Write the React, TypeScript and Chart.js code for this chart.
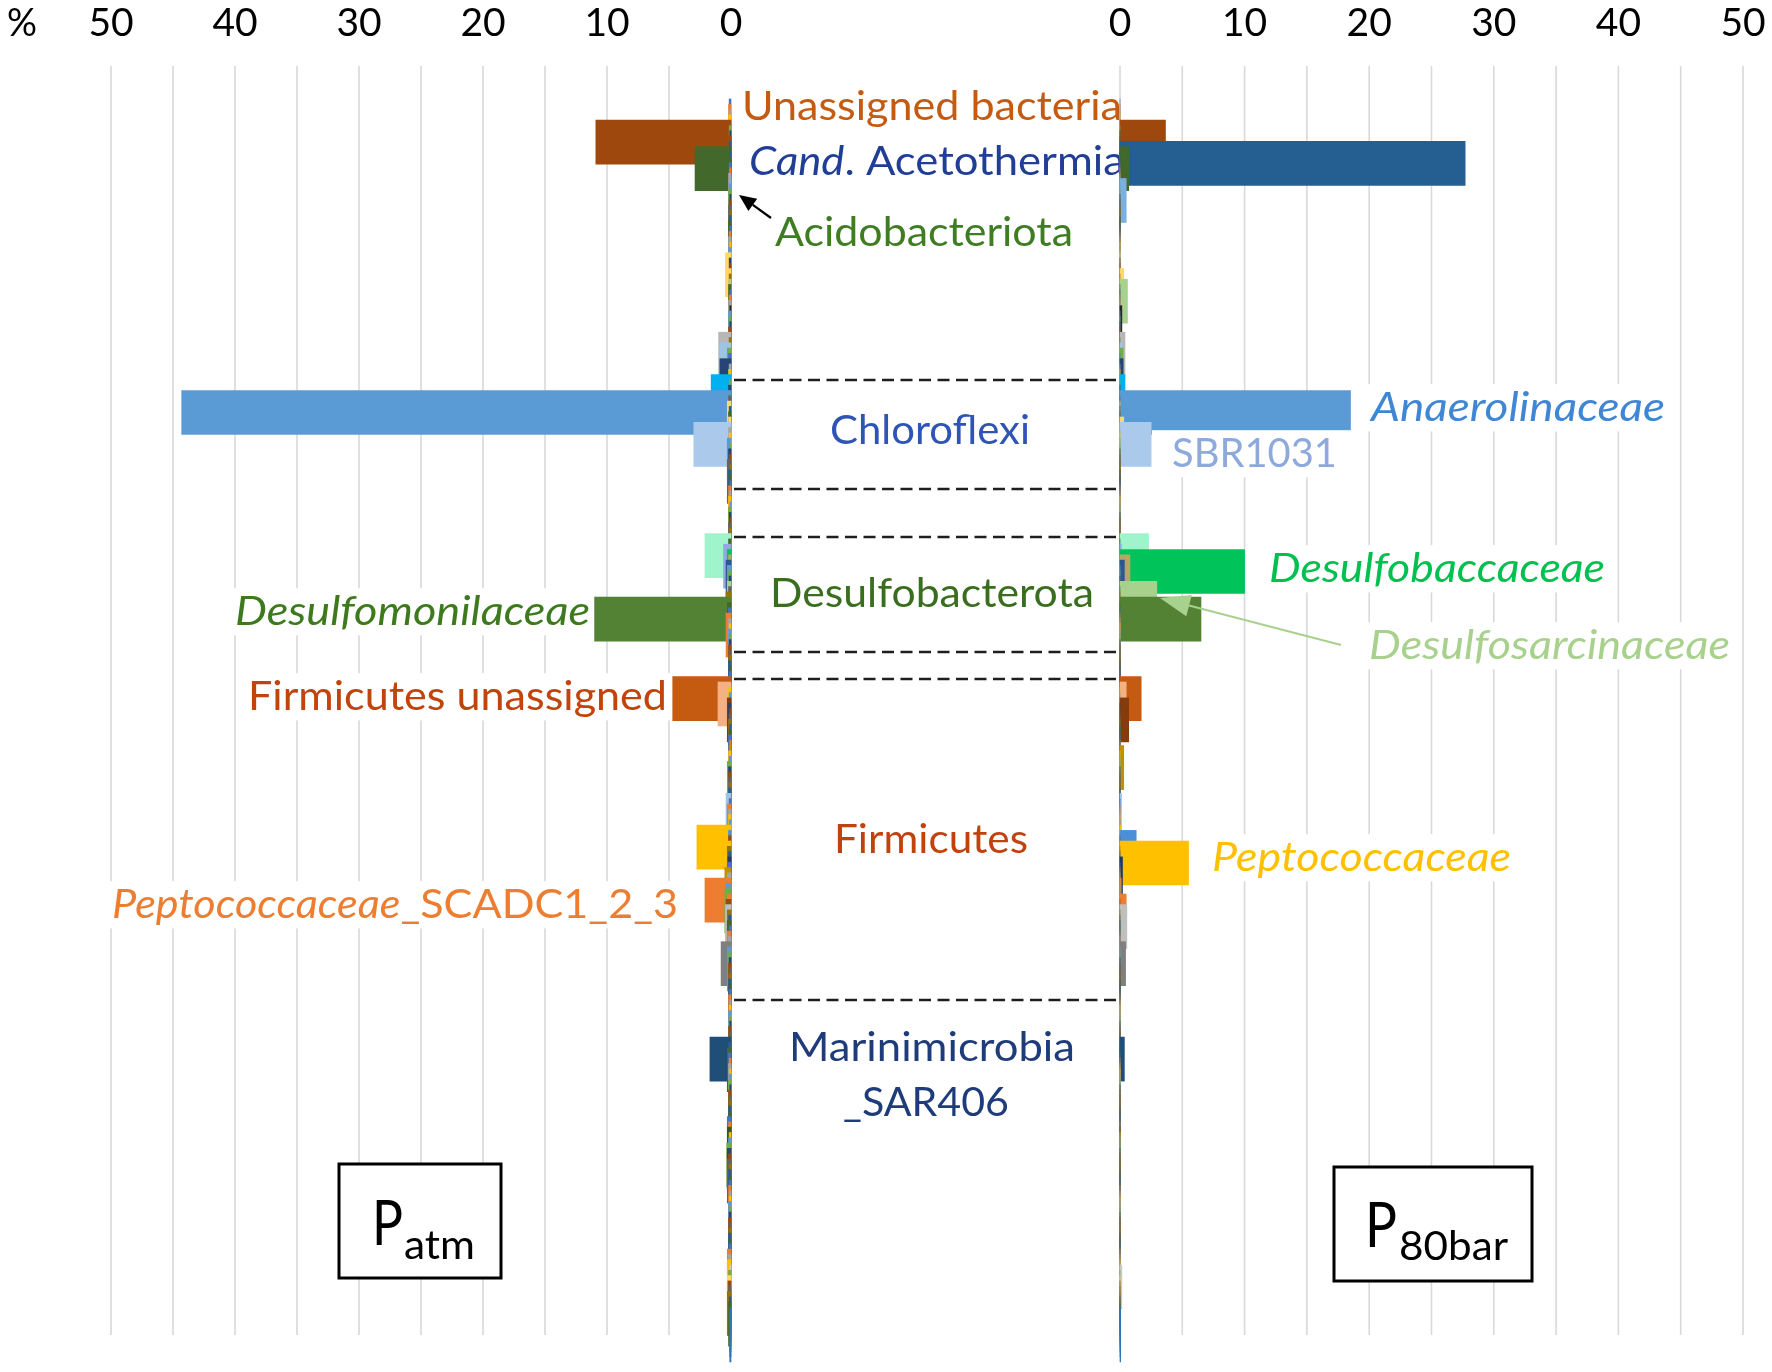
import { useEffect, useRef } from "react";
import { Chart, registerables } from "chart.js";

Chart.register(...registerables);

// ---------------- DATA ----------------
// Relative abundance (%) per taxon row, Patm (left) and P80bar (right)
const leftValues: number[] = [
  0.15, 0.2, 0.1, 0.2, 10.9, 0.15, 0.1, 0.2, 0.15, 2.9,
  0.1, 0.2, 0.15, 0.1, 0.2, 0.1, 0.15, 0.2, 0.1, 0.15,
  0.2, 0.1, 0.15, 0.2, 0.1, 0.15, 0.2, 0.1, 0.2, 0.45,
  0.15, 0.1, 0.2, 0.15, 0.15, 0.2, 0.1, 0.15, 0.2, 0.1,
  0.2, 0.15, 0.1, 0.2, 1.0, 0.15, 0.9, 0.3, 0.2, 0.9,
  0.15, 0.2, 1.6, 0.15, 0.2, 44.3, 0.2, 0.3, 0.15, 0.2,
  0.2, 3.0, 0.2, 0.15, 0.3, 0.1, 0.2, 0.15, 0.3, 0.1,
  0.2, 0.15, 0.1, 0.2, 0.15, 0.2, 0.1, 0.2, 0.15, 0.1,
  0.2, 0.15, 2.1, 0.2, 0.6, 0.3, 0.2, 0.4, 0.3, 0.2,
  0.15, 0.3, 0.2, 0.4, 11.0, 0.3, 0.2, 0.4, 0.2, 0.15,
  0.2, 0.1, 0.15, 0.2, 0.1, 0.15, 0.2, 0.1, 0.15, 4.7,
  1.05, 0.2, 0.15, 0.3, 0.2, 0.1, 0.15, 0.2, 0.1, 0.15,
  0.2, 0.1, 0.15, 0.2, 0.15, 0.3, 0.2, 0.2, 0.2, 0.15,
  0.2, 0.4, 0.15, 0.3, 0.2, 0.2, 0.15, 2.75, 0.2, 0.2,
  0.25, 0.3, 0.2, 0.25, 0.3, 0.5, 0.3, 2.1, 0.4, 0.5,
  0.3, 0.4, 0.45, 0.3, 0.2, 0.3, 0.15, 0.3, 0.2, 0.8,
  0.3, 0.2, 0.15, 0.2, 0.1, 0.15, 0.2, 0.1, 0.15, 0.2,
  0.1, 0.15, 0.2, 0.15, 0.1, 0.2, 0.15, 1.7, 0.2, 0.3,
  0.2, 0.15, 0.2, 0.1, 0.15, 0.2, 0.1, 0.2, 0.15, 0.1,
  0.2, 0.15, 0.3, 0.2, 0.3, 0.15, 0.2, 0.35, 0.3, 0.2,
  0.3, 0.15, 0.2, 0.1, 0.15, 0.2, 0.1, 0.15, 0.2, 0.1,
  0.15, 0.2, 0.1, 0.15, 0.2, 0.1, 0.15, 0.3, 0.2, 0.3,
  0.1, 0.2, 0.3, 0.25, 0.2, 0.3, 0.15, 0.2, 0.1, 0.1,
  0.1,
];

const rightValues: number[] = [
  0, 0, 0, 0, 3.65, 0, 0, 0, 27.7, 0.7,
  0, 0, 0, 0, 0, 0.5, 0, 0, 0, 0,
  0, 0, 0, 0, 0, 0, 0, 0, 0, 0,
  0, 0, 0.3, 0, 0.6, 0, 0, 0, 0, 0.15,
  0, 0, 0, 0, 0.4, 0, 0.2, 0.25, 0, 0.25,
  0, 0, 0.4, 0, 0, 18.5, 0, 0, 0, 0,
  0.3, 2.5, 0, 0, 0, 0, 0, 0, 0, 0,
  0, 0, 0, 0, 0, 0, 0, 0, 0, 0,
  0, 0, 2.3, 0, 0.1, 10.0, 0.8, 0.35, 0, 0,
  0, 2.95, 0, 0, 6.5, 0, 0, 0, 0, 0,
  0, 0, 0, 0, 0, 0, 0, 0, 0, 1.7,
  0.5, 0, 0, 0.7, 0, 0, 0, 0, 0, 0,
  0, 0, 0.3, 0, 0, 0, 0, 0, 0, 0,
  0, 0.12, 0, 0, 0, 0, 0, 0.1, 1.3, 0,
  5.5, 0, 0, 0.2, 0, 0, 0, 0.1, 0, 0,
  0.5, 0, 0.55, 0, 0, 0, 0, 0, 0, 0.45,
  0, 0, 0, 0, 0, 0, 0, 0, 0, 0,
  0, 0, 0, 0, 0, 0, 0, 0.35, 0, 0,
  0, 0, 0, 0, 0, 0, 0, 0, 0, 0,
  0, 0, 0, 0, 0, 0, 0, 0, 0, 0,
  0, 0, 0, 0, 0, 0, 0, 0, 0, 0,
  0, 0, 0, 0, 0, 0, 0, 0, 0, 0,
  0.15, 0, 0, 0, 0, 0, 0, 0, 0.05, 0.05,
  0.05,
];

const namedTaxa: [number, string][] = [
  [4, "Unassigned bacteria"],
  [8, "Cand. Acetothermia"],
  [9, "Acidobacteriota"],
  [52, "Chloroflexi other"],
  [55, "Anaerolinaceae"],
  [61, "SBR1031"],
  [85, "Desulfobaccaceae"],
  [91, "Desulfosarcinaceae"],
  [94, "Desulfomonilaceae"],
  [109, "Firmicutes unassigned"],
  [140, "Peptococcaceae"],
  [147, "Peptococcaceae_SCADC1_2_3"],
  [177, "Marinimicrobia_SAR406"],
];
const taxaMap = new Map(namedTaxa);
const taxa: string[] = leftValues.map((_, i) => taxaMap.get(i) ?? `taxon ${i + 1}`);

const gridValues: number[] = [0, 5, 10, 15, 20, 25, 30, 35, 40, 45, 50];
const tickValues: number[] = [0, 10, 20, 30, 40, 50];

// ---------------- STYLES ----------------
const W = 1772;
const H = 1372;
const FONT = "Lato, 'Open Sans', sans-serif";
const ROW_PITCH = 5.3;
const PLOT_TOP = 121 - ROW_PITCH / 2;
const PLOT_BOTTOM = PLOT_TOP + ROW_PITCH * leftValues.length;
const BAR_THICK = 44;

const officePalette = [
  "#4472c4", "#ed7d31", "#a5a5a5", "#ffc000", "#5b9bd5", "#70ad47",
  "#264478", "#9e480e", "#636363", "#997300", "#255e91", "#43682b",
];
const colorOverrides: Record<number, string> = {
  4: "#9e480e", 8: "#255e91", 9: "#43682b", 15: "#7cafdd", 29: "#ffd966", 32: "#ffd966",
  34: "#a9d18e", 39: "#262626", 44: "#b7b7b7", 46: "#9dc3e6", 47: "#70ad47", 49: "#264478",
  52: "#00b0f0", 55: "#5b9bd5", 57: "#ffd966", 60: "#ffd966", 61: "#abc9ea", 82: "#a0f4cc",
  84: "#8faadc", 85: "#00c45a", 86: "#b1a964", 87: "#2f5597", 91: "#a9d18e", 94: "#548235",
  109: "#c55a11", 110: "#f4b183", 113: "#843c0c", 122: "#bf9000", 131: "#9dc3e6",
  137: "#ffc000", 138: "#4a90d9", 140: "#ffc000", 143: "#203864", 145: "#bf9000",
  147: "#ed7d31", 150: "#ed7d31", 152: "#bfbfbf", 159: "#7f7f7f", 177: "#1f4e79",
  194: "#375623", 220: "#c9c9c9", 222: "#ffd966", 228: "#2e75b6", 229: "#2e75b6", 230: "#2e75b6",
};
const rowColors = leftValues.map((_, i) => colorOverrides[i] ?? officePalette[i % officePalette.length]);

type Seg = { t: string; it?: boolean };

function drawText(
  ctx: CanvasRenderingContext2D,
  segs: Seg[],
  x: number,
  base: number,
  size: number,
  color: string,
  width?: number,
  bg = false,
  align: "left" | "center" = "left",
  bgLeftPad = 4,
  bgRightPad = 4
) {
  ctx.save();
  const fontOf = (it?: boolean) => `${it ? "italic " : ""}${size}px ${FONT}`;
  let nat = 0;
  for (const s of segs) {
    ctx.font = fontOf(s.it);
    nat += ctx.measureText(s.t).width;
  }
  const w = width ?? nat;
  const sx = w / nat;
  const left = align === "center" ? x - w / 2 : x;
  if (bg) {
    ctx.fillStyle = "#ffffff";
    ctx.fillRect(left - bgLeftPad, base - size * 0.92, w + bgLeftPad + bgRightPad, size * 1.18);
  }
  ctx.translate(left, base);
  ctx.scale(sx, 1);
  ctx.fillStyle = color;
  ctx.textAlign = "left";
  ctx.textBaseline = "alphabetic";
  let cx = 0;
  for (const s of segs) {
    ctx.font = fontOf(s.it);
    ctx.fillText(s.t, cx, 0);
    cx += ctx.measureText(s.t).width;
  }
  ctx.restore();
}

function arrow(
  ctx: CanvasRenderingContext2D,
  x1: number, y1: number, x2: number, y2: number,
  color: string, lw: number, headLen: number, headHalf: number
) {
  const ang = Math.atan2(y2 - y1, x2 - x1);
  const bx = x2 - headLen * Math.cos(ang);
  const by = y2 - headLen * Math.sin(ang);
  ctx.save();
  ctx.strokeStyle = color;
  ctx.fillStyle = color;
  ctx.lineWidth = lw;
  ctx.beginPath();
  ctx.moveTo(x1, y1);
  ctx.lineTo(bx, by);
  ctx.stroke();
  ctx.beginPath();
  ctx.moveTo(x2, y2);
  ctx.lineTo(bx + headHalf * Math.sin(ang), by - headHalf * Math.cos(ang));
  ctx.lineTo(bx - headHalf * Math.sin(ang), by + headHalf * Math.cos(ang));
  ctx.closePath();
  ctx.fill();
  ctx.restore();
}

function drawGrid(chart: any, includeZero: boolean) {
  const ctx: CanvasRenderingContext2D = chart.ctx;
  const xs = chart.scales.x;
  ctx.save();
  ctx.strokeStyle = "#d9d9d9";
  ctx.lineWidth = 1.6;
  for (const v of gridValues) {
    if (v === 0 && !includeZero) continue;
    const x = xs.getPixelForValue(v);
    ctx.beginPath();
    ctx.moveTo(x, 66);
    ctx.lineTo(x, 1335);
    ctx.stroke();
  }
  ctx.restore();
}

function drawTicks(chart: any) {
  const ctx: CanvasRenderingContext2D = chart.ctx;
  const xs = chart.scales.x;
  for (const v of tickValues) {
    drawText(ctx, [{ t: String(v) }], xs.getPixelForValue(v), 36, 39, "#000000", undefined, false, "center");
  }
}

function pressureBox(
  ctx: CanvasRenderingContext2D,
  x: number, y: number, w: number, h: number,
  px: number, pBase: number, pW: number, sub: string, sx: number, sBase: number, sW: number
) {
  ctx.save();
  ctx.fillStyle = "#ffffff";
  ctx.fillRect(x, y, w, h);
  ctx.strokeStyle = "#000000";
  ctx.lineWidth = 3;
  ctx.strokeRect(x, y, w, h);
  ctx.restore();
  drawText(ctx, [{ t: "P" }], px, pBase, 62, "#000000", pW);
  drawText(ctx, [{ t: sub }], sx, sBase, 40, "#000000", sW);
}

const leftPlugin = {
  id: "leftDecor",
  beforeDatasetsDraw(chart: any) {
    drawGrid(chart, false);
  },
  afterDatasetsDraw(chart: any) {
    const ctx: CanvasRenderingContext2D = chart.ctx;
    drawTicks(chart);
    drawText(ctx, [{ t: "%" }], 7, 36, 38, "#000000", 30);

    // dashed phylum separators
    ctx.save();
    ctx.strokeStyle = "#1e1e1e";
    ctx.lineWidth = 2.4;
    ctx.setLineDash([12, 6.5]);
    for (const y of [380, 489, 537, 652, 679, 1000]) {
      ctx.beginPath();
      ctx.moveTo(734, y);
      ctx.lineTo(1116, y);
      ctx.stroke();
    }
    ctx.restore();

    // middle labels
    drawText(ctx, [{ t: "Unassigned bacteria" }], 742, 120, 40, "#c55a11", 380);
    drawText(ctx, [{ t: "Cand", it: true }, { t: ". Acetothermia" }], 749, 175, 40, "#203e96", 376);
    drawText(ctx, [{ t: "Acidobacteriota" }], 775, 246, 40, "#3f7d22", 298);
    drawText(ctx, [{ t: "Chloroflexi" }], 830, 444, 40, "#2e54b5", 200);
    drawText(ctx, [{ t: "Desulfobacterota" }], 770, 607, 40, "#3a6e1f", 324);
    drawText(ctx, [{ t: "Firmicutes" }], 834, 853, 40, "#c0420c", 194);
    drawText(ctx, [{ t: "Marinimicrobia" }], 789, 1061, 40, "#1f3c7a", 286);
    drawText(ctx, [{ t: "_SAR406" }], 843, 1116, 40, "#1f3c7a", 166);

    // left labels
    drawText(ctx, [{ t: "Desulfomonilaceae", it: true }], 235, 625, 40, "#3d7a1e", 355, true);
    drawText(ctx, [{ t: "Firmicutes unassigned" }], 248, 710, 40, "#c0440c", 419, true);
    drawText(ctx, [{ t: "Peptococcaceae", it: true }, { t: "_SCADC1_2_3" }], 112, 918, 40, "#ed7d31", 566, true);

    arrow(ctx, 771, 218, 739, 195, "#000000", 2.2, 17, 7.5);

    pressureBox(ctx, 339, 1164, 162, 114, 372, 1245, 31, "atm", 404, 1259, 71);
  },
};

const rightPlugin = {
  id: "rightDecor",
  beforeDatasetsDraw(chart: any) {
    drawGrid(chart, true);
  },
  afterDatasetsDraw(chart: any) {
    const ctx: CanvasRenderingContext2D = chart.ctx;
    drawTicks(chart);
    drawText(ctx, [{ t: "Anaerolinaceae", it: true }], 1371, 421, 40, "#3f86d4", 294, true);
    drawText(ctx, [{ t: "SBR1031" }], 1172, 467, 40, "#8eaadc", 165, true, "left", 20, 20);
    drawText(ctx, [{ t: "Desulfobaccaceae", it: true }], 1269, 582, 40, "#00c050", 336, true);
    drawText(ctx, [{ t: "Desulfosarcinaceae", it: true }], 1369, 659, 40, "#a9d18e", 361, true);
    drawText(ctx, [{ t: "Peptococcaceae", it: true }], 1212, 871, 40, "#ffc000", 299, true);
    arrow(ctx, 1341, 645, 1160, 598, "#a9d18e", 2.2, 30, 11);
    pressureBox(ctx, 1334, 1167, 198, 114, 1365, 1247, 32, "80bar", 1399, 1260, 109);
  },
};

function makeConfig(isLeft: boolean): any {
  return {
    type: "bar",
    data: {
      labels: taxa,
      datasets: [
        {
          label: isLeft ? "Patm" : "P80bar",
          data: isLeft ? leftValues : rightValues,
          backgroundColor: rowColors,
          borderWidth: 0,
          barThickness: BAR_THICK,
          clip: false,
        },
      ],
    },
    options: {
      indexAxis: "y",
      responsive: false,
      maintainAspectRatio: false,
      animation: false,
      devicePixelRatio: 1,
      events: [],
      layout: {
        padding: {
          left: isLeft ? 111 : 1120,
          right: isLeft ? W - 731 : W - 1743,
          top: PLOT_TOP,
          bottom: H - PLOT_BOTTOM,
        },
      },
      scales: {
        x: { type: "linear", min: 0, max: 50, reverse: isLeft, display: false },
        y: { type: "category", display: false, offset: true },
      },
      plugins: { legend: { display: false }, tooltip: { enabled: false }, title: { display: false } },
    },
    plugins: [isLeft ? leftPlugin : rightPlugin],
  };
}

export default function App() {
  const leftRef = useRef<HTMLCanvasElement>(null);
  const rightRef = useRef<HTMLCanvasElement>(null);

  useEffect(() => {
    document.body.style.margin = "0";
    const cl = new Chart(leftRef.current as HTMLCanvasElement, makeConfig(true));
    const cr = new Chart(rightRef.current as HTMLCanvasElement, makeConfig(false));
    return () => {
      cl.destroy();
      cr.destroy();
    };
  }, []);

  return (
    <div style={{ position: "relative", width: W, height: H, background: "#ffffff" }}>
      <canvas ref={leftRef} width={W} height={H} style={{ position: "absolute", left: 0, top: 0 }} />
      <canvas ref={rightRef} width={W} height={H} style={{ position: "absolute", left: 0, top: 0 }} />
    </div>
  );
}
